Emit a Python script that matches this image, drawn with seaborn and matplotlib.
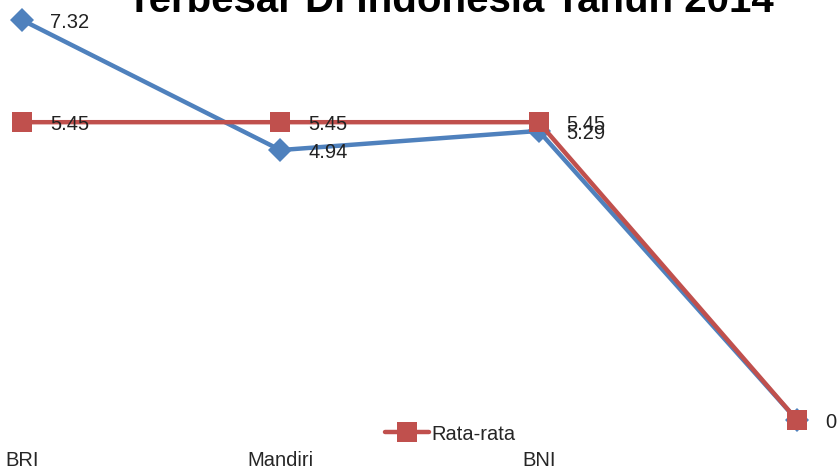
import pandas as pd
import matplotlib
matplotlib.use("Agg")
import matplotlib.pyplot as plt
import seaborn as sns

# data
categories = ["BRI", "Mandiri", "BNI", ""]
bank_values = [7.32, 4.94, 5.29, 0]
average_values = [5.45, 5.45, 5.45, 0]
value_labels_bank = ["7.32", "4.94", "5.29", ""]
value_labels_avg = ["5.45", "5.45", "5.45", "0"]

sns.set_style("white")
plt.rcParams['font.family'] = ['Liberation Sans Narrow', 'Liberation Sans', 'DejaVu Sans']

W, H = 838, 468
fig = plt.figure(figsize=(W / 100, H / 100), dpi=100)
x0, x1 = 22, 797
y0, y1 = 420, 20
ax = fig.add_axes([x0 / W, (H - y0) / H, (x1 - x0) / W, (y0 - y1) / H])

df = pd.DataFrame({
    "pos": list(range(len(categories))) * 2,
    "value": bank_values + average_values,
    "series": ["Bank"] * 4 + ["Rata-rata"] * 4,
})

blue = "#4F81BD"
red = "#C0504D"

sns.lineplot(data=df[df.series == "Bank"], x="pos", y="value", ax=ax,
             color=blue, lw=3.2, marker="D", markersize=12, markeredgewidth=0,
             clip_on=False, legend=False)
sns.lineplot(data=df[df.series == "Rata-rata"], x="pos", y="value", ax=ax,
             color=red, lw=3.2, marker="s", markersize=14, markeredgewidth=0,
             clip_on=False, label="Rata-rata")

for i, (lb, la) in enumerate(zip(value_labels_bank, value_labels_avg)):
    if lb:
        ax.annotate(lb, (i, bank_values[i]), xytext=(20, -2), textcoords="offset points",
                    ha="left", va="center", fontsize=14.5, color="#222222")
    if la:
        ax.annotate(la, (i, average_values[i]), xytext=(20, -2), textcoords="offset points",
                    ha="left", va="center", fontsize=14.5, color="#222222")

ax.set_xlim(0, 3)
ax.set_ylim(0, 7.32)
ax.set_xticks(range(len(categories)))
ax.set_xticklabels(categories, fontsize=14.5)
ax.tick_params(axis="x", length=0, pad=22)
ax.set_yticks([])
ax.set_xlabel("")
ax.set_ylabel("")
for s in ax.spines.values():
    s.set_visible(False)

leg = ax.legend(loc="center", bbox_to_anchor=(450 / W, (H - 434) / H),
                bbox_transform=fig.transFigure, frameon=False, fontsize=14.5,
                handlelength=2.2, handletextpad=0.1, borderpad=0)

fig.text(450 / W, 1 - 12 / H, "Terbesar Di Indonesia Tahun 2014", ha="center",
         va="baseline", fontsize=29, fontweight="bold", color="black")

plt.savefig("out.png", dpi=100)
